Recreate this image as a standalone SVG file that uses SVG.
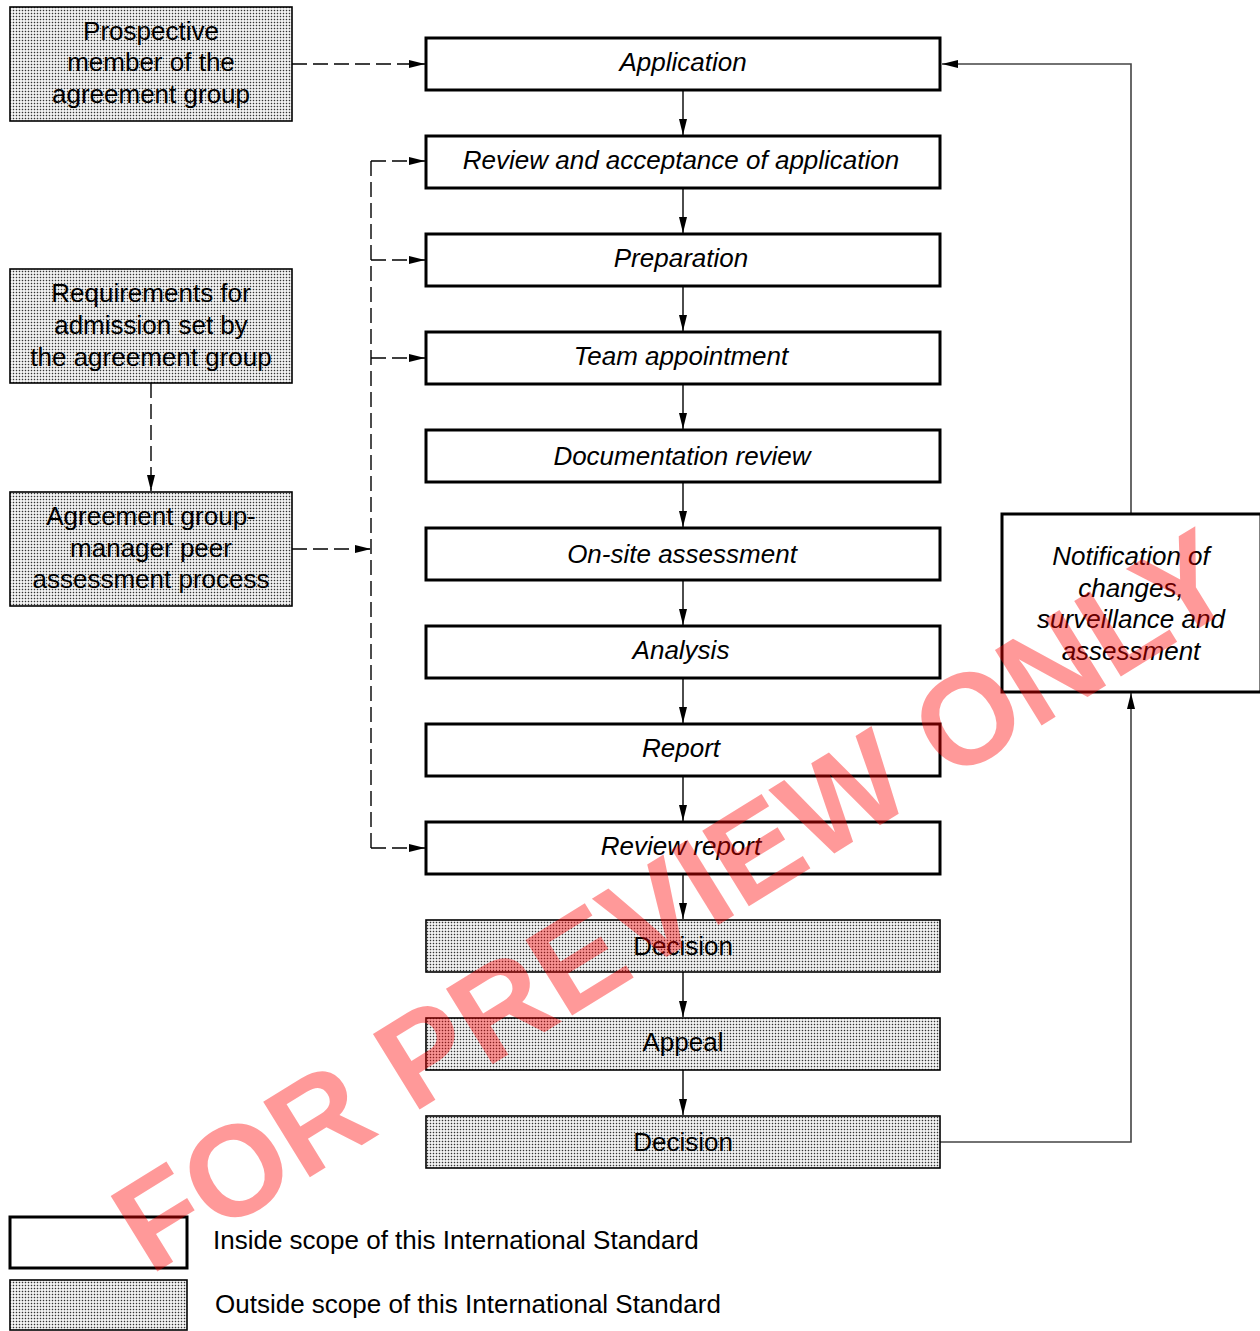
<svg xmlns="http://www.w3.org/2000/svg" width="1260" height="1331" viewBox="0 0 1260 1331">
<style>
.in{fill:#fff;stroke:#000;stroke-width:3}
.out{fill:url(#dots);stroke:#000;stroke-width:1.6}
.t{font-family:"Liberation Sans",Arial,sans-serif;font-size:26px;text-anchor:middle;fill:#000}
.it{font-style:italic}
.lg{font-family:"Liberation Sans",Arial,sans-serif;font-size:26px;fill:#000}
.sol{fill:none;stroke:#000;stroke-width:1.4;marker-end:url(#ah)}
.fb{fill:none;stroke:#444;stroke-width:1.6;marker-end:url(#ah)}
.dsh{fill:none;stroke:#000;stroke-width:1.4;stroke-dasharray:15 6}
.dsha{fill:none;stroke:#000;stroke-width:1.4;stroke-dasharray:15 6;marker-end:url(#ah)}
</style>
<defs>
<pattern id="dots" width="3" height="3" patternUnits="userSpaceOnUse">
<rect width="3" height="3" fill="#fff"/>
<rect x="0.75" y="0.75" width="1.5" height="1.5" fill="#333"/>
</pattern>
<marker id="ah" markerWidth="16" markerHeight="8" refX="16" refY="4" orient="auto" markerUnits="userSpaceOnUse">
<path d="M0,0 L16,4 L0,8 Z" fill="#000"/>
</marker>
</defs>

<g id="connectors">
<path class="sol" d="M683,90 V135"/>
<path class="sol" d="M683,188 V233"/>
<path class="sol" d="M683,286 V331"/>
<path class="sol" d="M683,384 V429"/>
<path class="sol" d="M683,482 V527"/>
<path class="sol" d="M683,580 V625"/>
<path class="sol" d="M683,678 V723"/>
<path class="sol" d="M683,776 V821"/>
<path class="sol" d="M683,874 V919"/>
<path class="sol" d="M683,972 V1017"/>
<path class="sol" d="M683,1070 V1115"/>
<path class="fb" d="M940,1142 H1131 V693"/>
<path class="fb" d="M1131,514 V64 H942"/>
<path class="dsha" d="M292,64 H425"/>
<path class="dsha" d="M151,383 V491"/>
<path class="dsha" d="M292,549 H371"/>
<path class="dsh" d="M371,161 V848"/>
<path class="dsha" d="M371,161 H425"/>
<path class="dsha" d="M371,260 H425"/>
<path class="dsha" d="M371,358 H425"/>
<path class="dsha" d="M371,848 H425"/>
</g>

<g id="n-prospective"><rect class="out" x="10" y="7" width="282" height="114"/>
<text class="t" x="151" y="40">Prospective</text><text class="t" x="151" y="71">member of the</text><text class="t" x="151" y="103">agreement group</text></g>
<g id="n-requirements"><rect class="out" x="10" y="269" width="282" height="114"/>
<text class="t" x="151" y="302">Requirements for</text><text class="t" x="151" y="334">admission set by</text><text class="t" x="151" y="366">the agreement group</text></g>
<g id="n-peer"><rect class="out" x="10" y="492" width="282" height="114"/>
<text class="t" x="151" y="525">Agreement group-</text><text class="t" x="151" y="557">manager peer</text><text class="t" x="151" y="588">assessment process</text></g>

<g id="n-application"><rect class="in" x="426" y="38" width="514" height="52"/><text class="t it" x="683" y="71">Application</text></g>
<g id="n-review"><rect class="in" x="426" y="136" width="514" height="52"/><text class="t it" x="681" y="169">Review and acceptance of application</text></g>
<g id="n-preparation"><rect class="in" x="426" y="234" width="514" height="52"/><text class="t it" x="681" y="267">Preparation</text></g>
<g id="n-team"><rect class="in" x="426" y="332" width="514" height="52"/><text class="t it" x="681" y="365">Team appointment</text></g>
<g id="n-docreview"><rect class="in" x="426" y="430" width="514" height="52"/><text class="t it" x="682" y="465">Documentation review</text></g>
<g id="n-onsite"><rect class="in" x="426" y="528" width="514" height="52"/><text class="t it" x="682" y="563">On-site assessment</text></g>
<g id="n-analysis"><rect class="in" x="426" y="626" width="514" height="52"/><text class="t it" x="681" y="659">Analysis</text></g>
<g id="n-report"><rect class="in" x="426" y="724" width="514" height="52"/><text class="t it" x="681" y="757">Report</text></g>
<g id="n-reviewreport"><rect class="in" x="426" y="822" width="514" height="52"/><text class="t it" x="681" y="855">Review report</text></g>
<g id="n-decision1"><rect class="out" x="426" y="920" width="514" height="52"/><text class="t" x="683" y="955">Decision</text></g>
<g id="n-appeal"><rect class="out" x="426" y="1018" width="514" height="52"/><text class="t" x="683" y="1051">Appeal</text></g>
<g id="n-decision2"><rect class="out" x="426" y="1116" width="514" height="52"/><text class="t" x="683" y="1151">Decision</text></g>

<g id="n-notification"><rect class="in" x="1002" y="514" width="259" height="178"/>
<text class="t it" x="1131" y="565">Notification of</text><text class="t it" x="1131" y="597">changes,</text><text class="t it" x="1131" y="628">surveillance and</text><text class="t it" x="1131" y="660">assessment</text></g>

<g id="legend">
<rect class="in" x="10" y="1217" width="177" height="51"/>
<text class="lg" x="213" y="1249">Inside scope of this International Standard</text>
<rect class="out" x="10" y="1280" width="177" height="50"/>
<text class="lg" x="215" y="1313">Outside scope of this International Standard</text>
</g>

<text x="150" y="1276" transform="rotate(-31.7 150 1276)" font-family="Liberation Sans, Arial, sans-serif" font-weight="bold" font-size="129" fill="#ff0000" fill-opacity="0.4">FOR PREVIEW ONLY</text>
</svg>
